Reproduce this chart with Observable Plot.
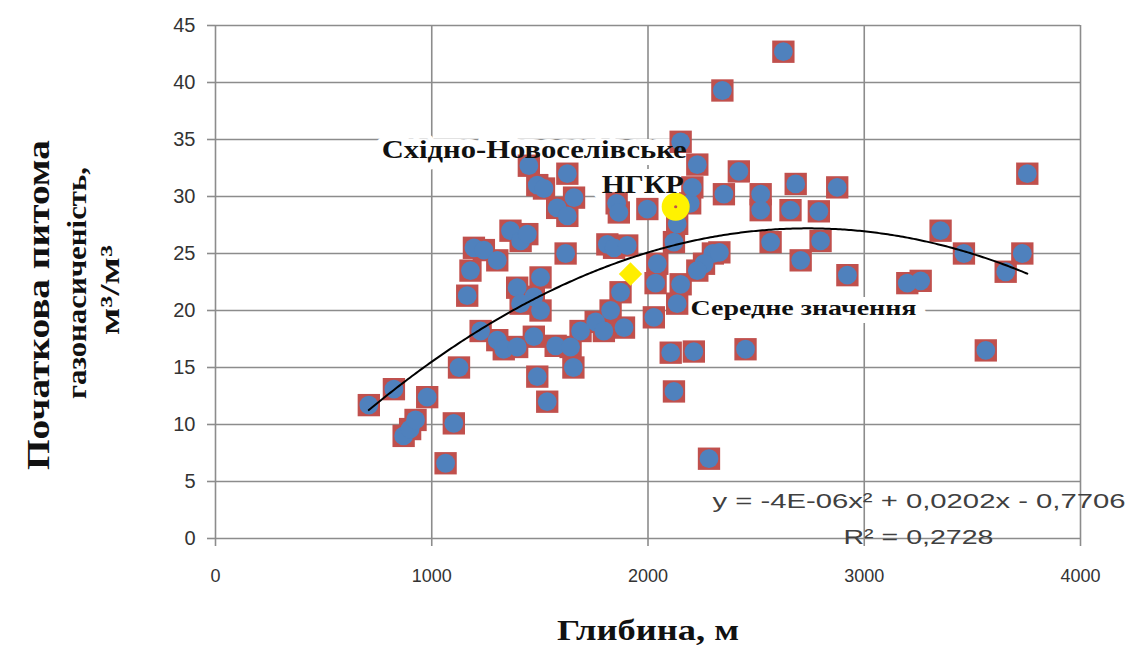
<!DOCTYPE html>
<html>
<head>
<meta charset="utf-8">
<script src="https://cdn.jsdelivr.net/npm/d3@7"></script>
<script src="https://cdn.jsdelivr.net/npm/@observablehq/plot@0.6"></script>
<style>
  html, body { margin: 0; padding: 0; background: #ffffff; }
  #chart svg { display: block; }
</style>
</head>
<body>
<div id="chart"></div>
<script>
// ---- Data ----
const depth = [
  709, 825, 870, 900, 925, 979, 1064, 1102, 1126, 1164,
  1179, 1195, 1241, 1303, 1364, 1411, 1442, 1395, 1503, 1472,
  1411, 1503, 1226, 1303, 1333, 1395, 1472, 1573, 1488, 1534,
  1619, 1449, 1488, 1519, 1627, 1658, 1580, 1627, 1855, 1865,
  1997, 1812, 1843, 1904, 2043, 2120, 2135, 2195, 2205, 2151,
  2228, 2344, 2626, 2420, 2351, 2521, 2683, 2875, 2521, 2659,
  2790, 2567, 2798, 2706, 2922, 2300, 2330, 2259, 2228, 2035,
  2151, 2135, 2027, 1873, 1827, 1758, 1889, 1796, 1688, 1642,
  1655, 2105, 2212, 2451, 2120, 2282, 3754, 3353, 3461, 3731,
  3654, 3261, 3199, 3562
];
const gas = [
  11.7, 13.1, 9.0, 9.6, 10.4, 12.4, 6.6, 10.1, 15.0, 21.3,
  23.5, 25.5, 25.3, 24.4, 27.0, 26.1, 26.7, 22.0, 22.9, 21.2,
  20.6, 20.0, 18.2, 17.4, 16.6, 16.8, 17.7, 16.9, 14.2, 12.0,
  25.0, 32.7, 31.0, 30.7, 32.0, 29.9, 29.0, 28.3, 29.4, 28.6,
  28.9, 25.8, 25.5, 25.7, 24.1, 26.0, 27.6, 29.4, 30.8, 34.8,
  32.8, 39.3, 42.7, 32.2, 30.2, 30.2, 31.1, 30.8, 28.8, 28.8,
  28.7, 26.0, 26.1, 24.4, 23.1, 25.0, 25.1, 24.1, 23.5, 22.4,
  22.3, 20.6, 19.4, 21.6, 20.0, 19.0, 18.5, 18.2, 18.2, 16.8,
  15.0, 16.3, 16.4, 16.6, 12.9, 7.0, 32.0, 27.0, 25.0, 25.0,
  23.4, 22.6, 22.4, 16.5
];
const fieldDepth = [2128];      // Східно-Новоселівське НГКР
const fieldGas = [29.1];
const meanDepth = [1919];       // Середне значення
const meanGas = [23.2];

const xTicks = [0, 1000, 2000, 3000, 4000];
const yTicks = [0, 5, 10, 15, 20, 25, 30, 35, 40, 45];

const xTitle = "Глибина, м";
const yTitleLines = ["Початкова питома", "газонасиченість,", "м³/м³"];
const fieldLabelLines = ["Східно-Новоселівське", "НГКР"];
const meanLabel = "Середне значення";
const equationText = "y = -4E-06x² + 0,0202x - 0,7706";
const r2Text = "R² = 0,2728";

// ---- Tables built from the arrays ----
const points = depth.map((d, i) => ({depth: d, gas: gas[i]}));
const fieldPts = fieldDepth.map((d, i) => ({depth: d, gas: fieldGas[i]}));
const meanPts = meanDepth.map((d, i) => ({depth: d, gas: meanGas[i]}));

// Polynomial (order 2) least-squares trend line, computed from the points
function quadFit(xs, ys) {
  const S = [0, 0, 0, 0, 0], T = [0, 0, 0];
  xs.forEach((xv, i) => {
    const x = xv / 1000; let p = 1;
    for (let k = 0; k < 5; k++) { S[k] += p; if (k < 3) T[k] += p * ys[i]; p *= x; }
  });
  const M = [[S[4], S[3], S[2], T[2]], [S[3], S[2], S[1], T[1]], [S[2], S[1], S[0], T[0]]];
  for (let c = 0; c < 3; c++) {
    for (let r = c + 1; r < 3; r++) {
      const f = M[r][c] / M[c][c];
      for (let k = c; k < 4; k++) M[r][k] -= f * M[c][k];
    }
  }
  const sol = [0, 0, 0];
  for (let r = 2; r >= 0; r--) {
    let s = M[r][3];
    for (let k = r + 1; k < 3; k++) s -= M[r][k] * sol[k];
    sol[r] = s / M[r][r];
  }
  return sol; // a, b, c in x/1000 units
}
const [qa, qb, qc] = quadFit(depth, gas);
const xmin = d3.min(depth), xmax = d3.max(depth);
const curve = d3.range(xmin, xmax, 10).concat([xmax]).map(x => {
  const t = x / 1000;
  return {depth: x, gas: qa * t * t + qb * t + qc};
});

const gridColor = "#8c8c8c";
const serif = "'Liberation Serif', 'Times New Roman', serif";
const sans = "'Liberation Sans', Arial, sans-serif";

const chart = Plot.plot({
  width: 1133,
  height: 655,
  marginLeft: 215,
  marginRight: 53,
  marginTop: 25,
  marginBottom: 117,
  x: {domain: [0, 4000], label: null},
  y: {domain: [0, 45], label: null},
  style: {background: "#ffffff", fontFamily: sans},
  marks: [
    Plot.gridY(yTicks, {stroke: gridColor, strokeOpacity: 1, strokeWidth: 1.6}),
    Plot.gridX(xTicks, {stroke: gridColor, strokeOpacity: 1, strokeWidth: 1.6}),
    Plot.axisY(yTicks, {tickSize: 8, tickPadding: 12, fontSize: 20, color: "#333333", stroke: gridColor, strokeWidth: 1.6, label: null, fontFamily: sans, tickFormat: d => String(d)}),
    Plot.axisX(xTicks, {tickSize: 8, tickPadding: 23, fontSize: 18, color: "#333333", stroke: gridColor, strokeWidth: 1.6, label: null, fontFamily: sans, tickFormat: d => String(d)}),
    // white boxes under the two labels
    Plot.text(fieldPts, {x: "depth", y: "gas", text: () => fieldLabelLines[0], textAnchor: "end", dx: 11, dy: -57, fontSize: 25, fontWeight: "bold", fontFamily: serif, fill: "white", stroke: "white", strokeWidth: 14}),
    Plot.text(fieldPts, {x: "depth", y: "gas", text: () => fieldLabelLines[1], textAnchor: "end", dx: 8, dy: -22, fontSize: 25, fontWeight: "bold", fontFamily: serif, fill: "white", stroke: "white", strokeWidth: 14}),
    Plot.text(meanPts, {x: "depth", y: "gas", text: () => meanLabel, textAnchor: "start", dx: 60, dy: 34, fontSize: 21, fontWeight: "bold", fontFamily: serif, fill: "white", stroke: "white", strokeWidth: 16}),
    // data
    Plot.dot(points, {x: "depth", y: "gas", symbol: "square", r: 12.6, fill: "#C0504D", stroke: "none"}),
    Plot.dot(points, {x: "depth", y: "gas", r: 9.4, fill: "#4F81BD", stroke: "none"}),
    Plot.line(curve, {x: "depth", y: "gas", stroke: "#000000", strokeWidth: 2}),
    Plot.dot(meanPts, {x: "depth", y: "gas", symbol: "diamond2", r: 10.5, fill: "#FFEE00", stroke: "none"}),
    Plot.dot(fieldPts, {x: "depth", y: "gas", r: 14, fill: "#FFF200", stroke: "none"}),
    Plot.dot(fieldPts, {x: "depth", y: "gas", r: 1.6, fill: "#C0504D", stroke: "none"}),
    // labels
    Plot.text(fieldPts, {x: "depth", y: "gas", text: () => fieldLabelLines[0], textAnchor: "end", dx: 11, dy: -57, fontSize: 25, fontWeight: "bold", fontFamily: serif, fill: "#111"}),
    Plot.text(fieldPts, {x: "depth", y: "gas", text: () => fieldLabelLines[1], textAnchor: "end", dx: 8, dy: -22, fontSize: 25, fontWeight: "bold", fontFamily: serif, fill: "#111"}),
    Plot.text(meanPts, {x: "depth", y: "gas", text: () => meanLabel, textAnchor: "start", dx: 60, dy: 34, fontSize: 21, fontWeight: "bold", fontFamily: serif, fill: "#111"}),
    Plot.text([equationText], {frameAnchor: "bottom-right", text: d => d, textAnchor: "end", dx: 45, dy: -31, fontSize: 20, fontFamily: sans, fill: "#404040"}),
    Plot.text([r2Text], {frameAnchor: "bottom-right", text: d => d, textAnchor: "start", dx: -237, dy: 5, fontSize: 20, fontFamily: sans, fill: "#404040"}),
    // axis titles
    Plot.text([xTitle], {frameAnchor: "bottom", text: d => d, textAnchor: "start", dx: -91, dy: 101, fontSize: 30, fontWeight: "bold", fontFamily: serif, fill: "#111"}),
    Plot.text([yTitleLines[0]], {frameAnchor: "left", text: d => d, rotate: -90, textAnchor: "start", dx: -177, dy: 188, fontSize: 32, fontWeight: "bold", fontFamily: serif, fill: "#111"}),
    Plot.text([yTitleLines[1]], {frameAnchor: "left", text: d => d, rotate: -90, textAnchor: "start", dx: -138, dy: 117, fontSize: 27, fontWeight: "bold", fontFamily: serif, fill: "#111"}),
    Plot.text([yTitleLines[2]], {frameAnchor: "left", text: d => d, rotate: -90, textAnchor: "start", dx: -105, dy: 53, fontSize: 27, fontWeight: "bold", fontFamily: serif, fill: "#111"})
  ]
});

// stretch text runs to the lengths they have in the reference
const textLengths = new Map([
  [fieldLabelLines[0], 305], [fieldLabelLines[1], 82], [meanLabel, 226],
  [xTitle, 182], [yTitleLines[0], 330], [yTitleLines[1], 232], [yTitleLines[2], 90],
  [equationText, 413], [r2Text, 150]
]);
d3.select(chart).selectAll("text").each(function () {
  const t = this.textContent;
  if (textLengths.has(t)) {
    this.setAttribute("textLength", textLengths.get(t));
    this.setAttribute("lengthAdjust", "spacingAndGlyphs");
  }
});

document.getElementById("chart").appendChild(chart);
</script>
</body>
</html>
